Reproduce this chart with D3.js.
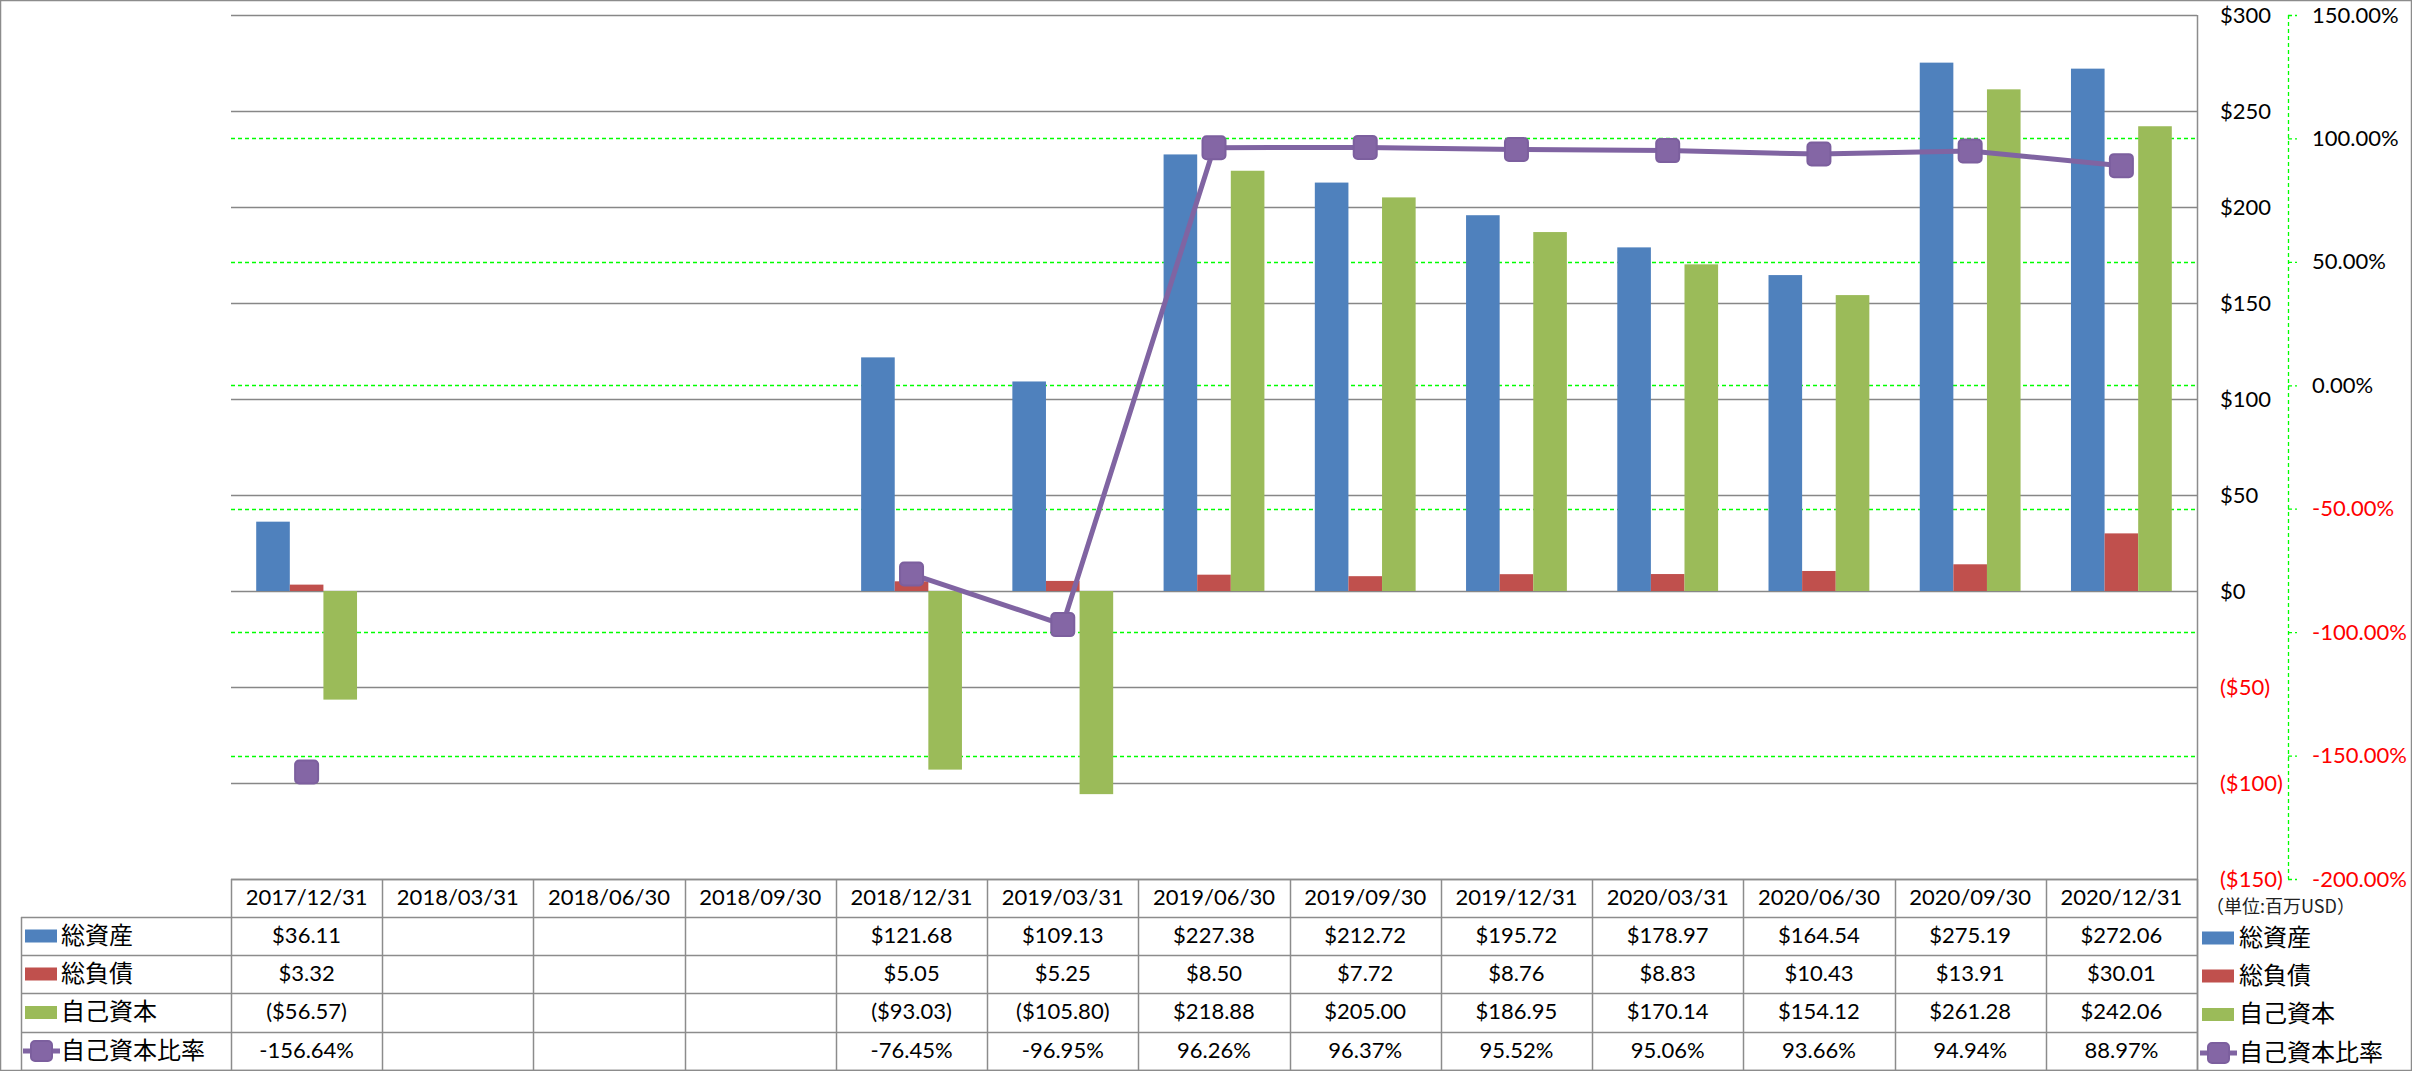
<!DOCTYPE html>
<html>
<head>
<meta charset="utf-8">
<script src="https://cdn.jsdelivr.net/npm/d3@7"></script>
<style>
  html, body { margin: 0; padding: 0; background: #fff; }
  svg { display: block; }
</style>
</head>
<body>
<svg id="chart" width="2412" height="1071"></svg>
<script>
// ---- data ----
const categories = ["2017/12/31","2018/03/31","2018/06/30","2018/09/30","2018/12/31","2019/03/31","2019/06/30","2019/09/30","2019/12/31","2020/03/31","2020/06/30","2020/09/30","2020/12/31"];
const seriesNames = ["総資産","総負債","自己資本","自己資本比率"];
const totalAssets = [36.11, null, null, null, 121.68, 109.13, 227.38, 212.72, 195.72, 178.97, 164.54, 275.19, 272.06];
const totalLiabilities = [3.32, null, null, null, 5.05, 5.25, 8.50, 7.72, 8.76, 8.83, 10.43, 13.91, 30.01];
const equity = [-56.57, null, null, null, -93.03, -105.80, 218.88, 205.00, 186.95, 170.14, 154.12, 261.28, 242.06];
const equityRatio = [-156.64, null, null, null, -76.45, -96.95, 96.26, 96.37, 95.52, 95.06, 93.66, 94.94, 88.97];
const leftTicks = [300, 250, 200, 150, 100, 50, 0, -50, -100, -150];
const rightTicks = [150, 100, 50, 0, -50, -100, -150, -200];
const unitLabel = "（単位:百万USD）";

// ---- styling ----
const colors = ["#4F81BD", "#C0504D", "#9BBB59", "#8064A2"];
const gridGray = "#878787";
const borderGray = "#8c8c8c";
const green = "#00FF00";
const numFont = "Lato, 'Open Sans', sans-serif";
const cjkFont = "'Noto Sans CJK JP', 'Noto Sans', sans-serif";

const svg = d3.select("#chart");
const plot = { left: 231, right: 2197, top: 15, bottom: 879 };

const x = d3.scaleBand().domain(categories).range([plot.left, plot.right]).paddingInner(0).paddingOuter(0);
const barSeries = [totalAssets, totalLiabilities, equity];
const xs = d3.scaleBand().domain([0, 1, 2]).range([0, x.bandwidth()]).paddingInner(0).paddingOuter(0.75);
const yL = d3.scaleLinear().domain([-150, 300]).range([plot.bottom, plot.top]);
const yR = d3.scaleLinear().domain([-200, 150]).range([plot.bottom, plot.top]);

const fmtMoney = v => v == null ? "" : (v < 0 ? `($${Math.abs(v).toFixed(2)})` : `$${v.toFixed(2)}`);
const fmtPct = v => v == null ? "" : `${v.toFixed(2)}%`;
const fmtAxisMoney = v => v < 0 ? `($${Math.abs(v)})` : `$${v}`;
const fmtAxisPct = v => `${v.toFixed(2)}%`;

// outer border
svg.append("rect").attr("x", 0.5).attr("y", 0.5).attr("width", 2411).attr("height", 1070)
  .attr("fill", "none").attr("stroke", borderGray).attr("stroke-width", 1.5);

// gray gridlines (primary)
svg.append("g").selectAll("line").data(leftTicks).join("line")
  .attr("x1", plot.left).attr("x2", plot.right)
  .attr("y1", d => Math.round(yL(d)) + 0.5).attr("y2", d => Math.round(yL(d)) + 0.5)
  .attr("stroke", gridGray).attr("stroke-width", 1.4);

// green dashed gridlines (secondary)
svg.append("g").selectAll("line").data(rightTicks.filter(d => d < 150 && d > -200)).join("line")
  .attr("x1", plot.left).attr("x2", plot.right)
  .attr("y1", d => Math.round(yR(d)) + 0.5).attr("y2", d => Math.round(yR(d)) + 0.5)
  .attr("stroke", green).attr("stroke-width", 1.3).attr("stroke-dasharray", "4,3");

// plot right border
svg.append("line").attr("x1", plot.right + 0.5).attr("x2", plot.right + 0.5)
  .attr("y1", plot.top).attr("y2", 1071).attr("stroke", borderGray).attr("stroke-width", 1.5);

// bars
barSeries.forEach((vals, si) => {
  svg.append("g").selectAll("rect")
    .data(vals.map((v, i) => ({ v, c: categories[i] })).filter(d => d.v != null))
    .join("rect")
    .attr("x", d => x(d.c) + xs(si))
    .attr("width", xs.bandwidth())
    .attr("y", d => yL(Math.max(0, d.v)))
    .attr("height", d => Math.abs(yL(d.v) - yL(0)))
    .attr("fill", colors[si]);
});

// ratio line
const ratioPts = equityRatio.map((v, i) => ({ v, c: categories[i] }));
const line = d3.line().defined(d => d.v != null)
  .x(d => x(d.c) + x.bandwidth() / 2).y(d => yR(d.v));
svg.append("path").datum(ratioPts).attr("d", line)
  .attr("fill", "none").attr("stroke", colors[3]).attr("stroke-width", 5).attr("stroke-linejoin", "round");
const mk = 23;
svg.append("g").selectAll("rect").data(ratioPts.filter(d => d.v != null)).join("rect")
  .attr("x", d => x(d.c) + x.bandwidth() / 2 - mk / 2)
  .attr("y", d => yR(d.v) - mk / 2)
  .attr("width", mk).attr("height", mk).attr("rx", 4)
  .attr("fill", "#8466A5").attr("stroke", "#7C5F9E").attr("stroke-width", 2);

// primary axis (labels only)
const axL = d3.axisRight(yL).tickValues(leftTicks).tickSize(0).tickPadding(23).tickFormat(fmtAxisMoney);
const gL = svg.append("g").attr("transform", `translate(${plot.right},0)`).call(axL);
gL.select(".domain").remove();
gL.selectAll("text").attr("font-family", numFont).attr("font-size", 22)
  .attr("fill", d => d < 0 ? "#FF0000" : "#000");

// secondary axis
const axR = d3.axisRight(yR).tickValues(rightTicks).tickSize(9).tickPadding(15).tickFormat(fmtAxisPct);
const gR = svg.append("g").attr("transform", `translate(2288,0)`).call(axR);
gR.select(".domain").attr("stroke", green).attr("stroke-width", 1.3).attr("stroke-dasharray", "4,3")
  .attr("d", `M0.5,${plot.top}V${plot.bottom}`);
gR.selectAll(".tick line").attr("stroke", green).attr("stroke-width", 1.3).attr("stroke-dasharray", "4,3");
gR.selectAll("text").attr("font-family", numFont).attr("font-size", 22)
  .attr("fill", d => d < 0 ? "#FF0000" : "#000");

// unit label
svg.append("text").attr("x", 2206).attr("y", 908).attr("dominant-baseline", "middle")
  .attr("font-family", cjkFont).attr("font-size", 18).attr("fill", "#222").text(unitLabel);

// ---- data table ----
const rowTops = [879, 917, 955, 993, 1032, 1070];
const tbl = svg.append("g");
// horizontal lines
tbl.append("line").attr("x1", plot.left).attr("x2", plot.right).attr("y1", rowTops[0] + 0.5).attr("y2", rowTops[0] + 0.5)
  .attr("stroke", borderGray).attr("stroke-width", 1.5);
tbl.selectAll(".hl").data(rowTops.slice(1)).join("line")
  .attr("x1", 21).attr("x2", plot.right).attr("y1", d => d + 0.5).attr("y2", d => d + 0.5)
  .attr("stroke", borderGray).attr("stroke-width", 1.5);
// vertical lines
tbl.selectAll(".vl").data(d3.range(categories.length + 1)).join("line")
  .attr("x1", i => Math.round(plot.left + i * x.step()) + 0.5)
  .attr("x2", i => Math.round(plot.left + i * x.step()) + 0.5)
  .attr("y1", rowTops[0]).attr("y2", 1071)
  .attr("stroke", borderGray).attr("stroke-width", 1.5);
tbl.append("line").attr("x1", 21.5).attr("x2", 21.5).attr("y1", rowTops[1]).attr("y2", 1071)
  .attr("stroke", borderGray).attr("stroke-width", 1.5);

// header text
tbl.selectAll(".hdr").data(categories).join("text")
  .attr("x", d => x(d) + x.bandwidth() / 2).attr("y", (rowTops[0] + rowTops[1]) / 2 + 1)
  .attr("text-anchor", "middle").attr("dominant-baseline", "middle")
  .attr("font-family", numFont).attr("font-size", 22).attr("fill", "#000").text(d => d);

const tableRows = [
  { vals: totalAssets, fmt: fmtMoney },
  { vals: totalLiabilities, fmt: fmtMoney },
  { vals: equity, fmt: fmtMoney },
  { vals: equityRatio, fmt: fmtPct }
];
tableRows.forEach((r, ri) => {
  const cy = (rowTops[ri + 1] + rowTops[ri + 2]) / 2 + 1;
  tbl.append("g").selectAll("text").data(r.vals.map((v, i) => ({ v, c: categories[i] }))).join("text")
    .attr("x", d => x(d.c) + x.bandwidth() / 2).attr("y", cy)
    .attr("text-anchor", "middle").attr("dominant-baseline", "middle")
    .attr("font-family", numFont).attr("font-size", 22).attr("fill", "#000")
    .text(d => r.fmt(d.v));
});

// legend keys (in table and on the right)
function legendKey(g, si, x0, cy) {
  if (si < 3) {
    g.append("rect").attr("x", x0).attr("y", cy - 6.5).attr("width", 32).attr("height", 13).attr("fill", colors[si]);
  } else {
    g.append("line").attr("x1", x0 - 2).attr("x2", x0 + 35).attr("y1", cy).attr("y2", cy)
      .attr("stroke", colors[3]).attr("stroke-width", 5);
    g.append("rect").attr("x", x0 + 6).attr("y", cy - 10).attr("width", 21).attr("height", 20).attr("rx", 4)
      .attr("fill", "#8466A5").attr("stroke", "#7C5F9E").attr("stroke-width", 2);
  }
}
seriesNames.forEach((name, si) => {
  const cy = (rowTops[si + 1] + rowTops[si + 2]) / 2;
  legendKey(tbl, si, 25, cy);
  tbl.append("text").attr("x", 61).attr("y", cy + 1).attr("dominant-baseline", "middle")
    .attr("font-family", cjkFont).attr("font-size", 24).attr("fill", "#000").text(name);
  legendKey(svg, si, 2202, cy + 2);
  svg.append("text").attr("x", 2239).attr("y", cy + 3).attr("dominant-baseline", "middle")
    .attr("font-family", cjkFont).attr("font-size", 24).attr("fill", "#000").text(name);
});
</script>
</body>
</html>
